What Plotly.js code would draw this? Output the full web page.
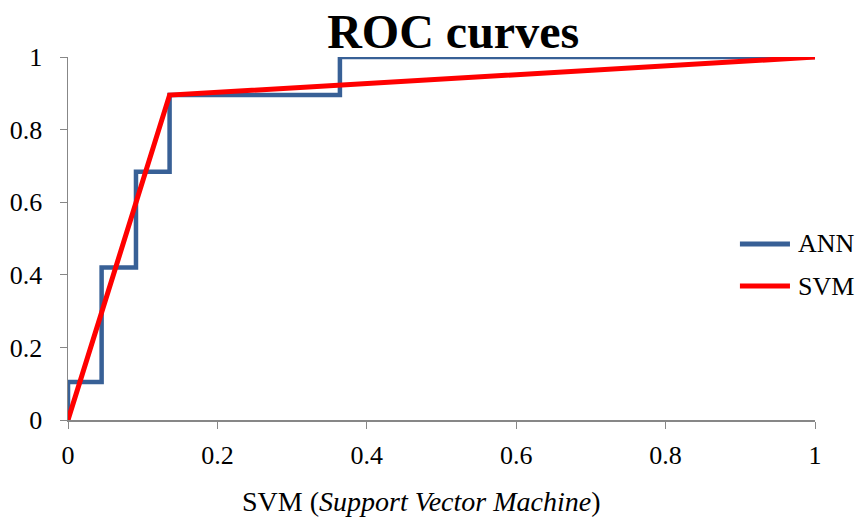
<!DOCTYPE html>
<html><head><meta charset="utf-8">
<script src="https://cdn.plot.ly/plotly-3.0.1.min.js"></script>
<style>html,body{margin:0;padding:0;background:#fff}#chart{width:855px;height:519px}</style>
</head><body><div id="chart"></div>
<script>
const annFpr = [0, 0, 0.045, 0.045, 0.091, 0.091, 0.136, 0.136, 0.364, 0.364, 1];
const annTpr = [0, 0.105, 0.105, 0.42, 0.42, 0.684, 0.684, 0.895, 0.895, 1, 1];
const svmFpr = [0, 0.136, 1];
const svmTpr = [0, 0.895, 1];
const tickVals = [0, 0.2, 0.4, 0.6, 0.8, 1];
const tickText = ['0', '0.2', '0.4', '0.6', '0.8', '1'];
const seriesNames = ['ANN', 'SVM'];
const seriesColors = ['#386096', '#FF0000'];

const font = 'Liberation Serif';
const traces = [
  {x: annFpr, y: annTpr, mode: 'lines', name: seriesNames[0], line: {color: seriesColors[0], width: 4.5}},
  {x: svmFpr, y: svmTpr, mode: 'lines', name: seriesNames[1], line: {color: seriesColors[1], width: 5}}
];
const axisCommon = {
  range: [0, 1], tickvals: tickVals, ticktext: tickText, showgrid: false, zeroline: false,
  showline: true, linecolor: '#878787', linewidth: 1.5, ticks: 'outside', ticklen: 7,
  tickcolor: '#878787', tickfont: {family: font, size: 26, color: '#000'}, fixedrange: true
};
const legendY = [0.485, 0.369];
const shapes = [], annotations = [];
seriesNames.forEach((n, i) => {
  shapes.push({type: 'line', xref: 'paper', yref: 'paper', x0: 0.8995, x1: 0.9665, y0: legendY[i], y1: legendY[i],
               line: {color: seriesColors[i], width: 5}});
  annotations.push({text: n, xref: 'paper', yref: 'paper', x: 0.974, y: legendY[i], xanchor: 'left', yanchor: 'middle',
                    showarrow: false, font: {family: font, size: 26, color: '#000'}});
});
annotations.push({
  text: 'SVM (<i>Support Vector Machine</i>)', xref: 'paper', yref: 'paper',
  x: 0.473, y: -0.225, xanchor: 'center', yanchor: 'middle', showarrow: false,
  font: {family: font, size: 28, color: '#000'}
});
const layout = {
  width: 855, height: 519,
  margin: {l: 68, r: 40, t: 57, b: 99, autoexpand: false},
  paper_bgcolor: '#fff', plot_bgcolor: '#fff',
  title: {text: '<b>ROC curves</b>', font: {family: font, size: 48, color: '#000'},
          x: 0.53, xanchor: 'center', y: 0.939, yanchor: 'middle'},
  xaxis: Object.assign({}, axisCommon, {ticklabelstandoff: 4}),
  yaxis: Object.assign({}, axisCommon, {ticklabelstandoff: 12}),
  showlegend: false,
  shapes: shapes,
  annotations: annotations
};
Plotly.newPlot('chart', traces, layout, {displayModeBar: false, staticPlot: true});
</script></body></html>
